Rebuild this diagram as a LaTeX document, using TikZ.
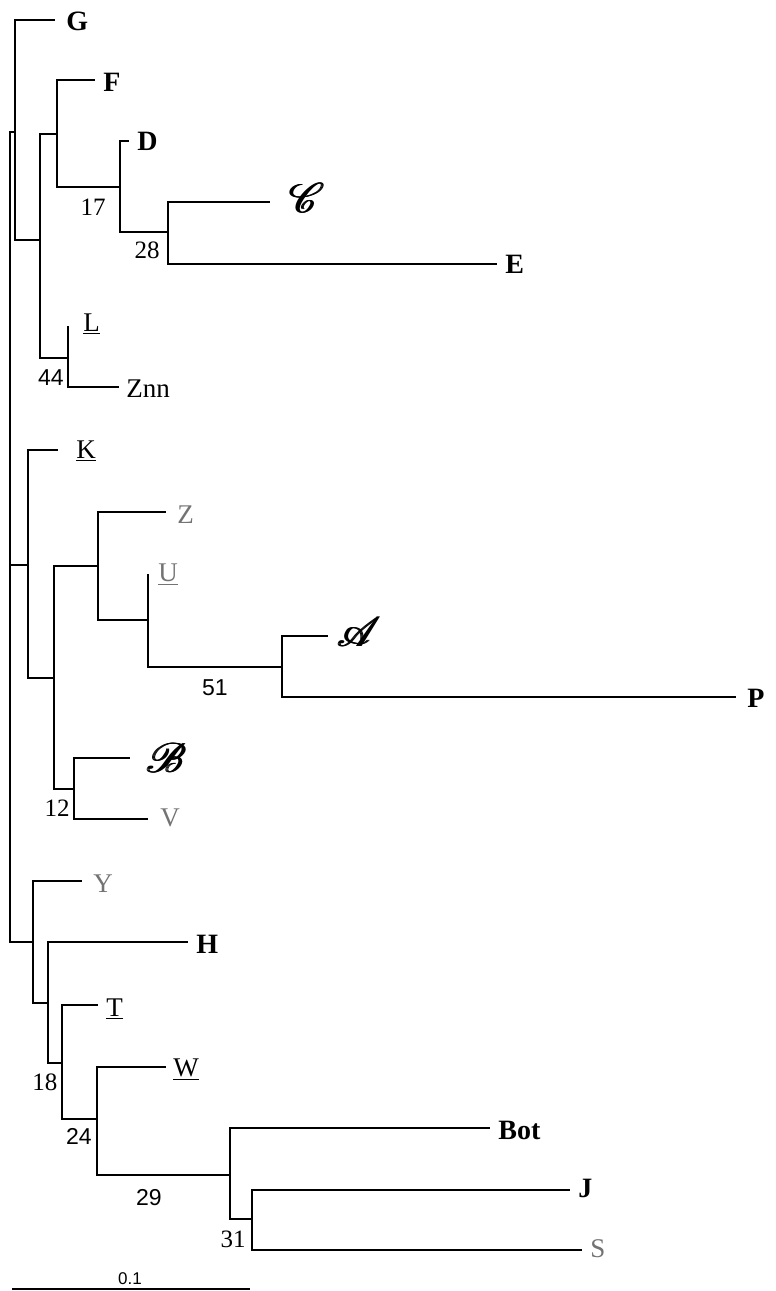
\documentclass[tikz,border=0pt]{standalone}
\usepackage{fontspec}
\setmainfont{Liberation Serif}
\newfontfamily\sansf{Liberation Sans}
\usepackage{mathrsfs}
\newcommand{\fkbold}[1]{\rlap{#1}\hspace{0.45pt}\rlap{#1}\hspace{0.45pt}#1}
\begin{document}
\begin{tikzpicture}[x=0.5pt,y=-0.5pt,
  br/.style={draw, line width=1.05pt},
  leafb/.style={anchor=base west, inner sep=0pt, font=\fontsize{14}{15}\selectfont\bfseries},
  leafr/.style={anchor=base west, inner sep=0pt, font=\fontsize{13.5}{14}\selectfont},
  leafg/.style={leafr, text=black!55},
  leafs/.style={anchor=base west, inner sep=0pt, font=\fontsize{20}{21}\selectfont},
  num/.style={anchor=base, inner sep=0pt, font=\fontsize{12.5}{13}\selectfont},
  numsf/.style={anchor=base, inner sep=0pt, font=\sansf\fontsize{11.5}{12}\selectfont}]
\useasboundingbox (0,0) rectangle (776,1291);
% internal nodes
\coordinate (root) at (10,565);
\coordinate (c1) at (15,132);
\coordinate (c4) at (40,240);
\coordinate (c5) at (57,134);
\coordinate (c7) at (120,187);
\coordinate (c8) at (168,232);
\coordinate (c6) at (68,358);
\coordinate (c2) at (28,565);
\coordinate (c9) at (54,678);
\coordinate (c10) at (98,566);
\coordinate (c12) at (148,620);
\coordinate (c13) at (282,667);
\coordinate (c11) at (74,789);
\coordinate (c3) at (33,942);
\coordinate (c14) at (48,1003);
\coordinate (c15) at (62,1063);
\coordinate (c16) at (97,1119);
\coordinate (c17) at (230,1175);
\coordinate (c18) at (252,1219);
% tips
\coordinate (tG) at (55,20);
\coordinate (tF) at (95,80);
\coordinate (tD) at (129,141);
\coordinate (tC) at (270,202);
\coordinate (tE) at (497,264);
\coordinate (tL) at (68,326);
\coordinate (tZnn) at (119,387);
\coordinate (tK) at (58,450);
\coordinate (tZ) at (166,512);
\coordinate (tU) at (148,574);
\coordinate (tA) at (328,636);
\coordinate (tP) at (736,697);
\coordinate (tB) at (130,758);
\coordinate (tV) at (148,819);
\coordinate (tY) at (82,881);
\coordinate (tH) at (188,942);
\coordinate (tT) at (98,1005);
\coordinate (tW) at (166,1067);
\coordinate (tBot) at (490,1128);
\coordinate (tJ) at (570,1190);
\coordinate (tS) at (582,1250);
% branches
\draw[br] (root) |- (c1);
\draw[br] (root) |- (c2);
\draw[br] (root) |- (c3);
\draw[br] (c1) |- (tG);
\draw[br] (c1) |- (c4);
\draw[br] (c4) |- (c5);
\draw[br] (c4) |- (c6);
\draw[br] (c5) |- (tF);
\draw[br] (c5) |- (c7);
\draw[br] (c7) |- (tD);
\draw[br] (c7) |- (c8);
\draw[br] (c8) |- (tC);
\draw[br] (c8) |- (tE);
\draw[br] (c6) |- (tL);
\draw[br] (c6) |- (tZnn);
\draw[br] (c2) |- (tK);
\draw[br] (c2) |- (c9);
\draw[br] (c9) |- (c10);
\draw[br] (c9) |- (c11);
\draw[br] (c10) |- (tZ);
\draw[br] (c10) |- (c12);
\draw[br] (c12) |- (tU);
\draw[br] (c12) |- (c13);
\draw[br] (c13) |- (tA);
\draw[br] (c13) |- (tP);
\draw[br] (c11) |- (tB);
\draw[br] (c11) |- (tV);
\draw[br] (c3) |- (tY);
\draw[br] (c3) |- (c14);
\draw[br] (c14) |- (tH);
\draw[br] (c14) |- (c15);
\draw[br] (c15) |- (tT);
\draw[br] (c15) |- (c16);
\draw[br] (c16) |- (tW);
\draw[br] (c16) |- (c17);
\draw[br] (c17) |- (tBot);
\draw[br] (c17) |- (c18);
\draw[br] (c18) |- (tJ);
\draw[br] (c18) |- (tS);
% leaf labels
\node[leafb] (lG) at (66,30) {G};
\node[leafb] (lF) at (103,91) {F};
\node[leafb] (lD) at (137,150) {D};
\node[leafs] (lC) at (288,212) {\fkbold{$\mathscr{C}$}};
\node[leafb] (lE) at (505,273) {E};
\node[leafr] (lL) at (83,331) {\underline{L}};
\node[leafr] (lZnn) at (126,397) {Znn};
\node[leafr] (lK) at (76,458) {\underline{K}};
\node[leafg] (lZ) at (177,523) {Z};
\node[leafg] (lU) at (158,581) {\underline{U}};
\node[leafs] (lA) at (336,646) {\fkbold{$\mathscr{A}$}};
\node[leafb] (lP) at (747,707) {P};
\node[leafs] (lB) at (145,772) {\fkbold{$\mathscr{B}$}};
\node[leafg] (lV) at (160,826) {V};
\node[leafg] (lY) at (93,892) {Y};
\node[leafb] (lH) at (196,953) {H};
\node[leafr] (lT) at (106,1016) {\underline{T}};
\node[leafr] (lW) at (173,1076) {\underline{W}};
\node[leafb] (lBot) at (498,1139) {Bot};
\node[leafb] (lJ) at (578,1197) {J};
\node[leafg] (lS) at (590,1257) {S};
% support values
\node[num] (n17) at (93,215) {17};
\node[num] (n28) at (147,258) {28};
\node[numsf] (n44) at (51,385) {44};
\node[numsf] (n51) at (215,695) {51};
\node[num] (n12) at (57,816) {12};
\node[num] (n18) at (45,1090) {18};
\node[numsf] (n24) at (79,1144) {24};
\node[numsf] (n29) at (149,1205) {29};
\node[num] (n31) at (233,1247) {31};
% scale bar
\coordinate (s0) at (12,1289);
\coordinate (s1) at (250,1289);
\draw[br] (s0) -- (s1);
\node[anchor=base, inner sep=0pt, font=\sansf\fontsize{8.5}{9}\selectfont] (sl) at (130,1284) {0.1};
\end{tikzpicture}
\end{document}
